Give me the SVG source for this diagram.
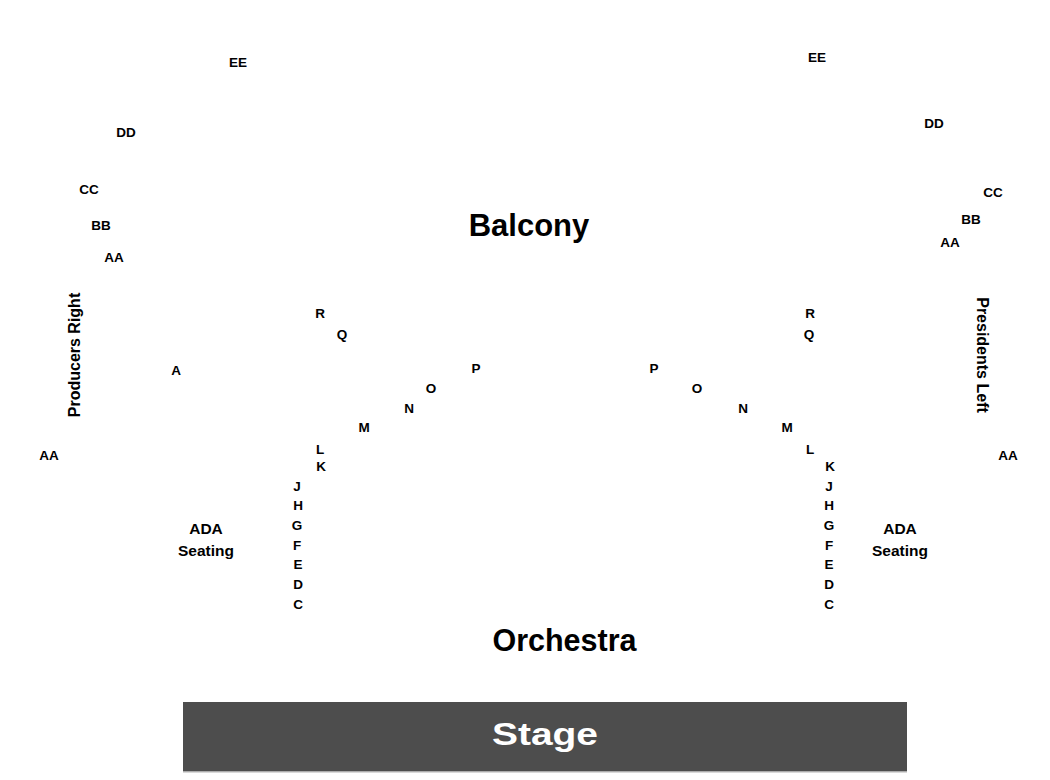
<svg xmlns="http://www.w3.org/2000/svg" width="1050" height="780" viewBox="0 0 1050 780">
<style>
text{font-family:"Liberation Sans",Arial,sans-serif;font-weight:bold;fill:#000;text-anchor:middle}
.r{font-size:13.5px}
.s{font-size:16px}
.ada{font-size:15.5px}
.big{font-size:31px}
.orc{font-size:30.5px}
.stage{font-size:32px;fill:#fff}
</style>
<rect width="1050" height="780" fill="#fff"/>
<g id="stage">
<rect x="183" y="702" width="724" height="69.5" fill="#4d4d4d"/>
<line x1="183" y1="772" x2="907" y2="772" stroke="#b4b4b4" stroke-width="1.2"/>
<text class="stage" x="545" y="745" textLength="106" lengthAdjust="spacingAndGlyphs">Stage</text>
</g>
<g id="section-labels">
<text class="big" x="529" y="236">Balcony</text>
<text class="orc" x="564.5" y="650.5">Orchestra</text>
<text class="s" transform="translate(74,355) rotate(-90)" y="5.5">Producers Right</text>
<text class="s" transform="translate(982,355) rotate(90)" y="5.5">Presidents Left</text>
<text class="ada" x="206" y="534">ADA</text>
<text class="ada" x="206" y="556">Seating</text>
<text class="ada" x="900" y="534">ADA</text>
<text class="ada" x="900" y="556">Seating</text>
</g>
<g id="balcony-left">
<text class="r" x="238" y="67">EE</text>
<text class="r" x="126" y="137">DD</text>
<text class="r" x="89" y="194">CC</text>
<text class="r" x="101" y="230">BB</text>
<text class="r" x="114" y="262">AA</text>
<text class="r" x="176" y="375">A</text>
<text class="r" x="49" y="460">AA</text>
</g>
<g id="balcony-right">
<text class="r" x="817" y="62">EE</text>
<text class="r" x="934" y="128">DD</text>
<text class="r" x="993" y="197">CC</text>
<text class="r" x="971" y="224">BB</text>
<text class="r" x="950" y="247">AA</text>
<text class="r" x="1008" y="460">AA</text>
</g>
<g id="orchestra-left">
<text class="r" x="320" y="318">R</text>
<text class="r" x="342" y="339">Q</text>
<text class="r" x="476" y="373">P</text>
<text class="r" x="431" y="393">O</text>
<text class="r" x="409" y="413">N</text>
<text class="r" x="364" y="432">M</text>
<text class="r" x="320" y="454">L</text>
<text class="r" x="321" y="471">K</text>
<text class="r" x="297" y="491">J</text>
<text class="r" x="298" y="510">H</text>
<text class="r" x="297" y="530">G</text>
<text class="r" x="297" y="550">F</text>
<text class="r" x="298" y="569">E</text>
<text class="r" x="298" y="589">D</text>
<text class="r" x="298" y="609">C</text>
</g>
<g id="orchestra-right">
<text class="r" x="810" y="318">R</text>
<text class="r" x="809" y="339">Q</text>
<text class="r" x="654" y="373">P</text>
<text class="r" x="697" y="393">O</text>
<text class="r" x="743" y="413">N</text>
<text class="r" x="787" y="432">M</text>
<text class="r" x="810" y="454">L</text>
<text class="r" x="830" y="471">K</text>
<text class="r" x="829" y="491">J</text>
<text class="r" x="829" y="510">H</text>
<text class="r" x="829" y="530">G</text>
<text class="r" x="829" y="550">F</text>
<text class="r" x="829" y="569">E</text>
<text class="r" x="829" y="589">D</text>
<text class="r" x="829" y="609">C</text>
</g>
<g id="connectors"></g>
</svg>
